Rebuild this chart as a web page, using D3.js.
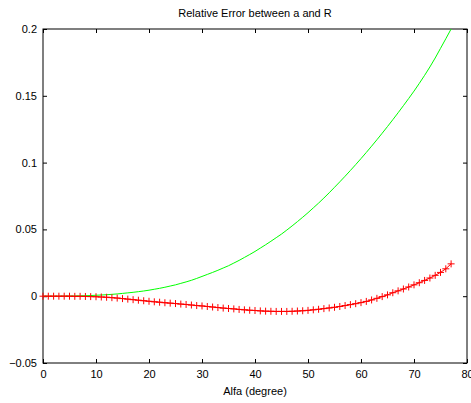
<!DOCTYPE html>
<html>
<head>
<meta charset="utf-8">
<script src="https://cdn.jsdelivr.net/npm/d3@7"></script>
<style>
  body { margin: 0; background: #fff; }
  svg text { font-family: "Liberation Sans", Arial, sans-serif; font-size: 11px; fill: #000; }
</style>
</head>
<body>
<div id="chart"></div>
<script>
// alfa in degrees (one sample per degree)
var alfa = [0,1,2,3,4,5,6,7,8,9,10,11,12,13,14,15,16,17,18,19,20,21,22,23,24,25,26,27,28,29,
  30,31,32,33,34,35,36,37,38,39,40,41,42,43,44,45,46,47,48,49,50,51,52,53,54,55,56,57,58,59,
  60,61,62,63,64,65,66,67,68,69,70,71,72,73,74,75,76,77];

// green curve
var errGreen = [0,0,0,0,0.0001,0.0001,0.0002,0.0003,0.0004,0.0005,
  0.0007,0.0009,0.0011,0.0014,0.0017,0.0021,0.0025,0.0029,0.0034,0.0039,
  0.0045,0.0052,0.0059,0.0067,0.0076,0.0085,0.0096,0.0107,0.0119,0.0133,
  0.0148,0.0163,0.0178,0.0194,0.0211,0.0228,0.0248,0.0268,0.0290,0.0312,
  0.0335,0.0360,0.0385,0.0411,0.0438,0.0465,0.0495,0.0526,0.0558,0.0591,
  0.0625,0.0661,0.0697,0.0735,0.0774,0.0815,0.0856,0.0898,0.0941,0.0985,
  0.1030,0.1076,0.1123,0.1171,0.1220,0.1270,0.1321,0.1373,0.1426,0.1480,
  0.1535,0.1593,0.1653,0.1716,0.1783,0.1855,0.1927,0.2000];

// red curve with + markers
var errRed = [0,0,0,0,0,0,-0.0001,-0.0001,-0.0002,-0.0003,
  -0.0004,-0.0006,-0.0008,-0.0011,-0.0014,-0.0018,-0.0022,-0.0026,-0.0030,-0.0034,
  -0.0038,-0.0042,-0.0045,-0.0049,-0.0052,-0.0055,-0.0059,-0.0062,-0.0066,-0.0070,
  -0.0073,-0.0077,-0.0081,-0.0085,-0.0089,-0.0092,-0.0095,-0.0099,-0.0102,-0.0105,
  -0.0107,-0.0110,-0.0112,-0.0113,-0.0114,-0.0114,-0.0114,-0.0113,-0.0111,-0.0109,
  -0.0106,-0.0102,-0.0098,-0.0093,-0.0088,-0.0083,-0.0077,-0.0070,-0.0063,-0.0056,
  -0.0048,-0.0039,-0.0028,-0.0016,-0.0003,0.0010,0.0026,0.0040,0.0054,0.0069,
  0.0085,0.0101,0.0118,0.0136,0.0156,0.0178,0.0205,0.0242];

var xTicks = [0,10,20,30,40,50,60,70,80];
var yTicks = [-0.05,0,0.05,0.1,0.15,0.2];

var margin = {top: 29, right: 4, bottom: 40, left: 43},
    width = 471 - margin.left - margin.right,
    height = 403 - margin.top - margin.bottom;

var svg = d3.select("#chart")
  .append("svg")
    .attr("width", 471)
    .attr("height", 403)
  .append("g")
    .attr("transform", "translate(" + margin.left + "," + margin.top + ")");

var x = d3.scaleLinear().domain([0, 80]).range([0, width]);
var y = d3.scaleLinear().domain([-0.05, 0.2]).range([height, 0]);

// axes, ticks pointing inward like matlab
function styleAxis(g) {
  g.select(".domain").remove();
  g.selectAll(".tick line").attr("stroke", "#000");
  g.selectAll(".tick text").style("font-size", "11px");
}
svg.append("g")
  .attr("transform", "translate(0," + height + ")")
  .call(d3.axisBottom(x).tickValues(xTicks).tickSize(-4).tickPadding(7).tickFormat(d3.format("d")))
  .call(styleAxis);
svg.append("g")
  .call(d3.axisTop(x).tickValues(xTicks).tickSize(-4).tickFormat(""))
  .call(styleAxis);
svg.append("g")
  .call(d3.axisLeft(y).tickValues(yTicks).tickSize(-4).tickPadding(6).tickFormat(function(d) { return d3.format("")(+d.toFixed(2)); }))
  .call(styleAxis);
svg.append("g")
  .attr("transform", "translate(" + width + ",0)")
  .call(d3.axisRight(y).tickValues(yTicks).tickSize(-4).tickFormat(""))
  .call(styleAxis);

// box
svg.append("rect")
  .attr("x", 0).attr("y", 0)
  .attr("width", width).attr("height", height)
  .attr("fill", "none")
  .attr("stroke", "#000")
  .attr("stroke-width", 1);

var line = d3.line()
  .x(function(d) { return x(d[0]); })
  .y(function(d) { return y(d[1]); });

svg.append("path")
  .datum(d3.zip(alfa, errGreen))
  .attr("fill", "none")
  .attr("stroke", "#00ff00")
  .attr("stroke-width", 1)
  .attr("d", line);

var redData = d3.zip(alfa, errRed);
svg.append("path")
  .datum(redData)
  .attr("fill", "none")
  .attr("stroke", "#ff0000")
  .attr("stroke-width", 1)
  .attr("d", line);

svg.selectAll(".plus")
  .data(redData)
  .enter().append("path")
    .attr("class", "plus")
    .attr("fill", "none")
    .attr("stroke", "#ff0000")
    .attr("stroke-width", 1)
    .attr("d", function(d) {
      var cx = x(d[0]), cy = y(d[1]), r = 3.5;
      return "M" + (cx - r) + "," + cy + "H" + (cx + r) + "M" + cx + "," + (cy - r) + "V" + (cy + r);
    });

// title and label
svg.append("text")
  .text("Relative Error between a and R")
  .attr("x", width / 2)
  .attr("y", -12)
  .style("text-anchor", "middle");

svg.append("text")
  .text("Alfa (degree)")
  .attr("x", width / 2)
  .attr("y", height + 32)
  .style("text-anchor", "middle");
</script>
</body>
</html>
